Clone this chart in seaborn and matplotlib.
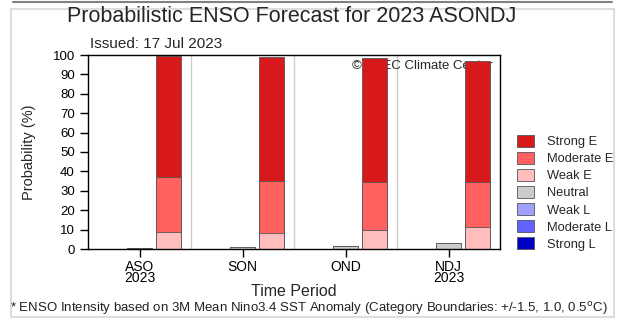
import numpy as np
import pandas as pd
import matplotlib
matplotlib.use("Agg")
import matplotlib.pyplot as plt
from matplotlib.patches import Patch, Rectangle
from matplotlib.lines import Line2D
import seaborn as sns

# data
periods = ['ASO', 'SON', 'OND', 'NDJ']
tick_labels = ['ASO\n2023', 'SON', 'OND', 'NDJ\n2023']
strong_l = [0, 0, 0, 0]
moderate_l = [0, 0, 0, 0]
weak_l = [0, 0, 0, 0]
neutral = [0.5, 1.0, 1.7, 3.0]
weak_e = [9, 8.5, 10, 11.3]
moderate_e = [28, 26.5, 24.5, 23]
strong_e = [62.5, 64, 63.8, 62.7]

categories = ['Strong E', 'Moderate E', 'Weak E', 'Neutral', 'Weak L', 'Moderate L', 'Strong L']
colors = ['#d7191c', '#ff6161', '#ffbdbd', '#cccccc', '#a0a0ff', '#6262ff', '#0000c4']
cmap = dict(zip(categories, colors))

groups = ['La Nina', 'Neutral', 'El Nino']

sns.set_style('white')
plt.rcParams['font.family'] = ['Liberation Sans', 'DejaVu Sans']

fig = plt.figure(figsize=(6.2, 3.18), dpi=100)
ax = fig.add_axes([88/620, 1-249/318, 412/620, 194/318])

# stacked layers, drawn from the tallest (cumulative) down
wl, ml, sl = np.array(weak_l), np.array(moderate_l), np.array(strong_l)
we, me, se = np.array(weak_e), np.array(moderate_e), np.array(strong_e)
layers = [
    (wl + ml + sl, we + me + se, 'Strong'),
    (wl + ml, we + me, 'Moderate'),
    (wl, we, 'Weak'),
]
for la_vals, el_vals, name in layers:
    df = pd.DataFrame({
        'period': periods * 3,
        'group': ['La Nina'] * 4 + ['Neutral'] * 4 + ['El Nino'] * 4,
        'value': list(la_vals) + neutral + list(el_vals),
    })
    pal = {'La Nina': cmap[name + ' L'], 'Neutral': cmap['Neutral'],
           'El Nino': cmap[name + ' E']}
    sns.barplot(data=df, x='period', y='value', hue='group', hue_order=groups,
                order=periods, palette=pal, width=0.84, gap=0.143,
                errorbar=None, legend=False, edgecolor='#555555',
                linewidth=0.6, saturation=1, ax=ax)

for xs in [0.5, 1.5, 2.5]:
    ax.axvline(xs, color='#cccccc', lw=1, zorder=0.4)

ax.text(0.983, 0.943, '\u00a9 APEC Climate Center', transform=ax.transAxes,
        ha='right', va='center', fontsize=9.5, zorder=0.5)

ax.set_xlim(-0.5, 3.5)
ax.set_ylim(0, 100)
ax.set_yticks(range(0, 101, 10))
ax.set_xticks(range(4))
ax.set_xticklabels(tick_labels, linespacing=0.72, fontsize=10)
ax.tick_params(axis='y', labelsize=9.5)
ax.tick_params(axis='both', direction='out', length=6, width=1,
               bottom=True, left=True, colors='black')
ax.tick_params(axis='x', pad=2)
for sp in ax.spines.values():
    sp.set_color('black')
    sp.set_linewidth(1)
ax.set_xlabel('Time Period', fontsize=11.5, labelpad=-1)
ax.set_ylabel('Probability (%)', fontsize=10.5, labelpad=12)

handles = [Patch(facecolor=c, edgecolor='#555555', linewidth=0.6) for c in colors]
fig.legend(handles, categories, loc='upper left', bbox_to_anchor=(517/620, 1-135/318),
           frameon=False, fontsize=9.3, labelspacing=0.3, handlelength=1.3,
           handleheight=1.0, handletextpad=1.0, borderaxespad=0, borderpad=0)

fig.text(67/620, 1-22/318, 'Probabilistic ENSO Forecast for 2023 ASONDJ',
         fontsize=15.5, ha='left', va='baseline')
fig.text(90/620, 1-48/318, 'Issued: 17 Jul 2023', fontsize=11, ha='left', va='baseline')
fig.text(10/620, 1-312/318,
         '* ENSO Intensity based on 3M Mean Nino3.4 SST Anomaly (Category Boundaries: +/-1.5, 1.0, 0.5$^{\\mathrm{o}}$C)',
         fontsize=9.5, ha='left', va='baseline', color='#222222')

# page frame
fig.add_artist(Line2D([13/620, 612/620], [1-1.5/318, 1-1.5/318], color='#808080', lw=1.5))
fig.add_artist(Rectangle((10.5/620, 1.5/318), 603/620, 308/318, fill=False,
                         edgecolor='#dddddd', lw=1.5))

fig.savefig('out.png', dpi=100)
